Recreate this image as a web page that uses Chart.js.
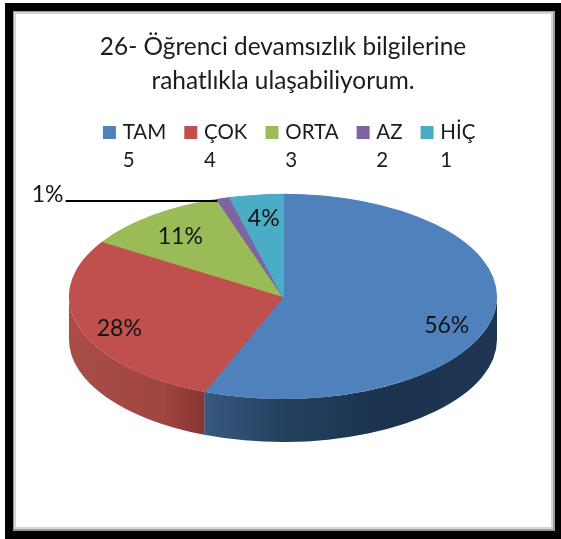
<!DOCTYPE html>
<html><head><meta charset="utf-8">
<style>html,body{margin:0;padding:0;background:#fff}#w{width:561px;height:539px;position:relative}canvas{display:block}</style>
<script src="https://cdn.jsdelivr.net/npm/chart.js@4/dist/chart.umd.min.js"></script>
</head><body><div id="w"><canvas id="c" width="561" height="539"></canvas></div>
<script>
const categories = ['TAM', 'ÇOK', 'ORTA', 'AZ', 'HİÇ'];
const scaleLabels = ['5', '4', '3', '2', '1'];
const percentages = [56, 28, 11, 1, 4];
const sliceColors = ['#4f81bd', '#c0504d', '#9bbb59', '#8064a2', '#4bacc6'];
const sideColors = [['#38587f', '#1c3350'], ['#aa4d49', '#873532'], ['#9bbb59', '#9bbb59'], ['#8064a2', '#8064a2'], ['#4bacc6', '#4bacc6']];
const titleLines = ['26- Öğrenci devamsızlık bilgilerine', 'rahatlıkla ulaşabiliyorum.'];
const FONT = 'Lato, "Open Sans", sans-serif';
const depth = 43;
// label anchors as fractions of the ellipse radii
const labelAnchors = [[0.765, 0.285], [-0.765, 0.31], [-0.48, -0.58], [-1.10, -0.99], [-0.09, -0.757]];

const framePlugin = {
  id: 'frame',
  beforeLayout(chart) {
    const lg = chart.legend;
    if (lg && !lg._wrapped) {
      lg._wrapped = true;
      const fit = lg.fit;
      lg.fit = function () {
        fit.call(this);
        this.height += 41;            // room for the second legend line
      };
    }
  },
  beforeDraw(chart) {
    const c = chart.ctx;
    c.save();
    c.fillStyle = '#fff'; c.fillRect(0, 0, 561, 539);
    c.fillStyle = '#000'; c.fillRect(5, 3, 556, 536);
    c.fillStyle = '#9a9a9a'; c.fillRect(13, 11, 542, 520);
    c.fillStyle = '#d6d6d6'; c.fillRect(14, 12, 539, 517);
    c.fillStyle = '#fff'; c.fillRect(16, 14, 535, 513);
    c.restore();
  }
};

const pie3d = {
  id: 'pie3d',
  beforeDatasetsDraw(chart) {
    const c = chart.ctx, a = chart.chartArea;
    const cx = (a.left + a.right) / 2, cy = (a.top + a.bottom) / 2;
    const ry = a.height / 2, rx = a.width / 2;
    const arcs = chart.getDatasetMeta(0).data;
    arcs.forEach((arc, i) => {
      const s = Math.max(arc.startAngle, 0), e = Math.min(arc.endAngle, Math.PI);
      if (e <= s) return;
      const x0 = cx + rx * Math.cos(e), x1 = cx + rx * Math.cos(s);
      const g = c.createLinearGradient(x0, 0, x1, 0);
      if (i === 0) {
        g.addColorStop(0, sideColors[0][0]); g.addColorStop(0.27, '#24405f');
        g.addColorStop(0.6, sideColors[0][1]); g.addColorStop(1, '#1e3652');
      } else {
        g.addColorStop(0, sideColors[i][0]); g.addColorStop(0.7, '#a04541'); g.addColorStop(1, sideColors[i][1]);
      }
      c.save();
      c.beginPath();
      c.ellipse(cx, cy, rx, ry, 0, s, e, false);
      c.ellipse(cx, cy + depth, rx, ry, 0, e, s, true);
      c.closePath();
      c.fillStyle = g;
      c.fill();
      c.restore();
    });
    c.save();
    c.translate(cx, cy);
    c.scale(rx / ry, 1);
    c.translate(-cx, -cy);
  },
  afterDatasetsDraw(chart) {
    const c = chart.ctx, a = chart.chartArea;
    c.restore();
    const cx = (a.left + a.right) / 2, cy = (a.top + a.bottom) / 2;
    const ry = a.height / 2, rx = a.width / 2;
    c.save();
    c.fillStyle = '#141414';
    c.font = '23px ' + FONT;
    c.textAlign = 'center';
    c.textBaseline = 'middle';
    percentages.forEach((v, i) => {
      const [fx, fy] = labelAnchors[i];
      c.fillText(v + '%', cx + fx * rx, cy + fy * ry);
    });
    // leader line for the 1% slice
    const ly = cy - ry * 0.93;
    const arc = chart.getDatasetMeta(0).data[3];
    const mid = (arc.startAngle + arc.endAngle) / 2;
    c.strokeStyle = '#000'; c.lineWidth = 2;
    c.beginPath();
    c.moveTo(cx + labelAnchors[3][0] * rx + 18, ly);
    c.lineTo(cx + Math.cos(mid) * rx * 1.1, ly);
    c.stroke();
    c.restore();
  }
};

new Chart(document.getElementById('c'), {
  type: 'pie',
  data: {
    labels: categories,
    datasets: [{
      data: percentages,
      backgroundColor: sliceColors,
      borderColor: sliceColors,
      borderWidth: 1,
      offset: 0
    }]
  },
  plugins: [framePlugin, pie3d],
  options: {
    responsive: false,
    animation: false,
    layout: { padding: { top: 30, left: 69, right: 64, bottom: 140 } },
    plugins: {
      tooltip: { enabled: false },
      title: {
        display: true, text: titleLines, color: '#1c1c1c',
        font: { family: FONT, size: 24.4, weight: 'normal', lineHeight: 1.4 },
        padding: { top: 0, bottom: 19 }
      },
      legend: {
        display: true, position: 'top', align: 'end',
        labels: {
          boxWidth: 6, boxHeight: 6, padding: 5, color: '#1c1c1c',
          font: { family: FONT, size: 20.5, lineHeight: 1.37 },
          generateLabels: (chart) => categories.map((t, i) => ({
            text: [t, scaleLabels[i]],
            fillStyle: sliceColors[i], strokeStyle: sliceColors[i], lineWidth: 7,
            fontColor: '#1c1c1c', index: i, hidden: false
          }))
        }
      }
    }
  }
});
</script></body></html>
